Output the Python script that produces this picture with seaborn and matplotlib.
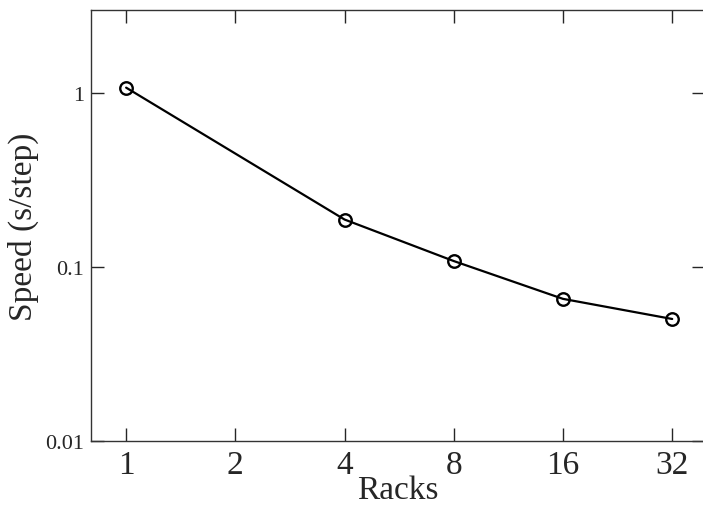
# -*- coding: utf-8 -*-
# Speed per step versus number of racks (log-log)

# %%
# * 1. Import packages
import matplotlib
matplotlib.use("Agg")
import matplotlib.pyplot as plt
import matplotlib.ticker as mticker
import pandas as pd
import seaborn as sns

# %%
# * 2. Data
racks = [1, 4, 8, 16, 32]
speed = [1.07, 0.187, 0.108, 0.0655, 0.0502]
x_ticks = [1, 2, 4, 8, 16, 32]
x_tick_labels = ["1", "2", "4", "8", "16", "32"]
y_ticks = [0.01, 0.1, 1]
y_tick_labels = ["0.01", "0.1", "1"]

df = pd.DataFrame({"Racks": racks, "Speed": speed})

# %%
# * 3. Plot
sns.set_style("ticks")
plt.rcParams["font.family"] = ["Liberation Serif", "DejaVu Serif"]

fig = plt.figure(figsize=(7.03, 5.06), dpi=100)
ax = fig.add_axes([0.1294, 0.1265, 0.874, 0.8524])

sns.lineplot(
    data=df,
    x="Racks",
    y="Speed",
    ax=ax,
    color="black",
    linewidth=1.6,
    marker="o",
    markersize=9,
    markerfacecolor="none",
    markeredgecolor="black",
    markeredgewidth=1.7,
)

ax.set_xscale("log", base=2)
ax.set_yscale("log")
ax.set_xlim(0.8, 39.5)
ax.set_ylim(0.01, 3)

ax.set_xticks(x_ticks)
ax.set_xticklabels(x_tick_labels)
ax.set_yticks(y_ticks)
ax.set_yticklabels(y_tick_labels)
ax.xaxis.set_minor_locator(mticker.NullLocator())
ax.yaxis.set_minor_locator(mticker.NullLocator())

ax.tick_params(axis="x", which="major", direction="in", length=9.5, width=1,
               top=True, bottom=True, labelsize=24, pad=6)
ax.tick_params(axis="y", which="major", direction="in", length=9.5, width=1,
               left=True, right=True, labelsize=16, pad=5)

for spine in ax.spines.values():
    spine.set_color("#333333")
    spine.set_linewidth(1)

ax.set_xlabel("Racks", fontsize=24, labelpad=-4)
ax.set_ylabel("Speed (s/step)", fontsize=24, labelpad=4)

fig.savefig("out.png", dpi=100)
